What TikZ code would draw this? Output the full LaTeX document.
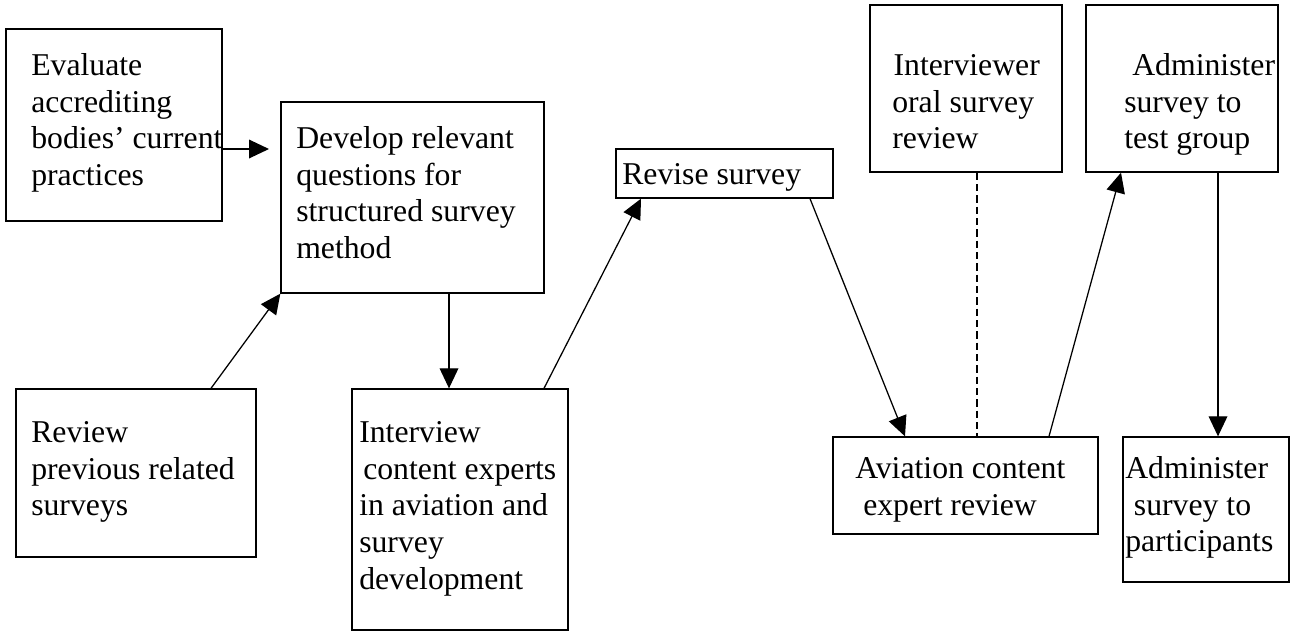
\documentclass[tikz,border=0pt]{standalone}
\usepackage{fontspec}
\setmainfont{Liberation Serif}
\usetikzlibrary{arrows.meta,fit}
\begin{document}
\begin{tikzpicture}[x=0.75pt,y=-0.75pt,
  box/.style={draw=black,line width=1pt,inner sep=0pt,fill=none},
  txt/.style={inner sep=0pt,align=left,anchor=north west,font=\fontsize{23.8pt}{27.6pt}\selectfont},
  arr/.style={draw=black,line width=0.95pt,-{Triangle[length=15pt,width=14pt]}},
  dashline/.style={draw=black,line width=0.95pt,dash pattern=on 5.5pt off 3pt}]
\useasboundingbox (0,0) rectangle (1291,632);
% boxes
\node[box,fit={(6,29) (222,221)}] (b1) {};
\node[box,fit={(281,102) (544,293)}] (b2) {};
\node[box,fit={(16,389) (256,557)}] (b3) {};
\node[box,fit={(352,389) (568,630)}] (b4) {};
\node[box,fit={(616,149) (833,198)}] (b5) {};
\node[box,fit={(870,5) (1062,172)}] (b6) {};
\node[box,fit={(1086,5) (1278,172)}] (b7) {};
\node[box,fit={(833,437) (1098,534)}] (b8) {};
\node[box,fit={(1123,437) (1289,582)}] (b9) {};
% texts
\node[txt] (t1) at (31,49.2) {\strut Evaluate\\accrediting\\bodies’ current\\practices};
\node[txt] (t2) at (296,122.2) {\strut Develop relevant\\questions for\\structured survey\\method};
\node[txt] (t3) at (31,416.2) {\strut Review\\previous related\\surveys};
\node[txt] (t4) at (359,416.2) {\strut Interview\\\hspace*{3pt}content experts\\in aviation and\\survey\\development};
\node[txt] (t5) at (622,158.2) {\strut Revise survey};
\node[txt] (t6) at (892,49.2) {\strut \hspace*{1pt}Interviewer\\oral survey\\review};
\node[txt] (t7) at (1124,49.2) {\strut \hspace*{6pt}Administer\\survey to\\test group};
\node[txt] (t8) at (855,452.2) {\strut Aviation content\\\hspace*{6pt}expert review};
\node[txt] (t9) at (1125,452.2) {\strut Administer\\\hspace*{6.5pt}survey to\\participants};
% helper coordinates
\coordinate (a1) at (269,149);
\coordinate (x1) at (211,0);
\coordinate (x2) at (449,0);
\coordinate (x3) at (544,0);
\coordinate (x4) at (641,0);
\coordinate (x5) at (810,0);
\coordinate (x6) at (905,0);
\coordinate (x7) at (977,0);
\coordinate (x8) at (1049,0);
\coordinate (x9) at (1121,0);
\coordinate (x10) at (1218,0);
% connectors
\draw[arr] (b1.east |- a1) -- (a1);
\draw[arr] (b3.north -| x1) -- (b2.south west);
\draw[arr] (b2.south -| x2) -- (b4.north -| x2);
\draw[arr] (b4.north -| x3) -- (b5.south -| x4);
\draw[arr] (b5.south -| x5) -- (b8.north -| x6);
\draw[dashline] (b6.south -| x7) -- (b8.north -| x7);
\draw[arr] (b8.north -| x8) -- (b7.south -| x9);
\draw[arr] (b7.south -| x10) -- (b9.north -| x10);
\end{tikzpicture}
\end{document}
